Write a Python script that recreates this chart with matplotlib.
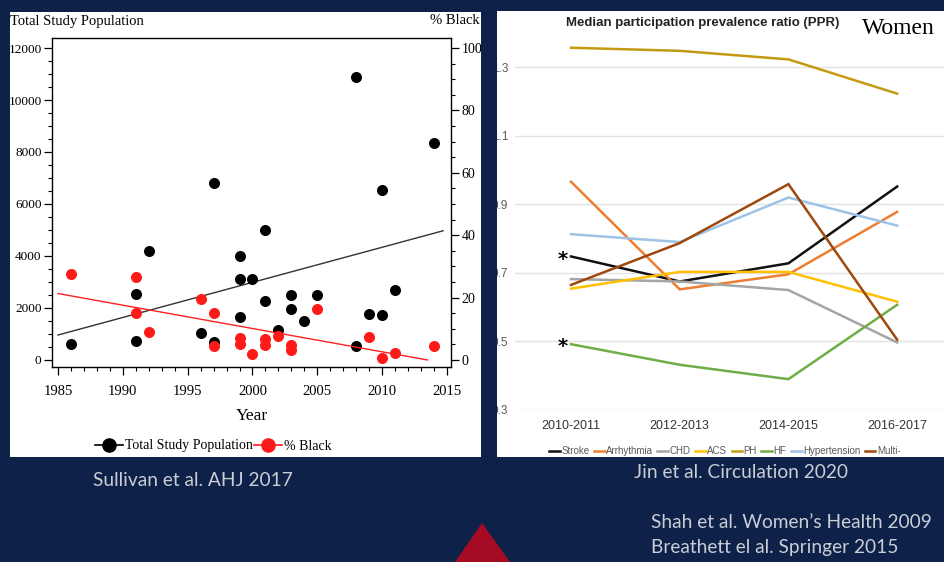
import matplotlib
matplotlib.use("Agg")
from matplotlib import pyplot as plt
from matplotlib.lines import Line2D
from matplotlib.patches import Rectangle, Polygon
from matplotlib.ticker import MultipleLocator

W, H = 945, 562
NAVY = '#0e2149'

# left chart: study population / % black by year
pop_years = [1986, 1991, 1991, 1992, 1996, 1997, 1997, 1999, 1999, 1999, 2000, 2001, 2001,
             2002, 2003, 2003, 2004, 2005, 2008, 2008, 2009, 2010, 2010, 2011, 2014]
pop_values = [600, 2550, 730, 4200, 1050, 6800, 700, 4000, 3100, 1640, 3100, 5000, 2250,
              1150, 2500, 1970, 1500, 2500, 10900, 540, 1780, 6550, 1740, 2680, 8350]
black_years = [1986, 1991, 1991, 1992, 1996, 1997, 1997, 1999, 1999, 2000, 2001, 2001,
               2002, 2003, 2003, 2005, 2009, 2010, 2011, 2014]
black_pct = [27.7, 26.5, 14.9, 8.9, 19.6, 15.2, 4.5, 7.1, 5.0, 1.8, 6.8, 4.7,
             7.8, 4.7, 3.1, 16.4, 7.4, 0.5, 2.2, 4.5]
pop_trend_years = [1985, 2014.7]
pop_trend = [960, 4970]
pct_trend_years = [1985, 2013.5]
pct_trend = [21.3, 0.0]

# right chart: median PPR (women)
periods = ['2010-2011', '2012-2013', '2014-2015', '2016-2017']
stroke = [0.748, 0.675, 0.728, 0.952]
arrhythmia = [0.966, 0.652, 0.696, 0.878]
chd = [0.682, 0.675, 0.650, 0.497]
acs = [0.654, 0.703, 0.703, 0.616]
ph = [1.357, 1.348, 1.323, 1.223]
hf = [0.492, 0.432, 0.390, 0.607]
hypertension = [0.813, 0.790, 0.920, 0.838]
multi = [0.665, 0.787, 0.959, 0.505]

series = [('Stroke', stroke, '#111111'), ('Arrhythmia', arrhythmia, '#ed7d31'),
          ('CHD', chd, '#a5a5a5'), ('ACS', acs, '#ffc000'), ('PH', ph, '#c39a12'),
          ('HF', hf, '#70ad47'), ('Hypertension', hypertension, '#9dc3e6'),
          ('Multi-', multi, '#9e480e')]


def px(x0, y0, x1, y1):
    return [x0 / W, 1 - y1 / H, (x1 - x0) / W, (y1 - y0) / H]


fig = plt.figure(figsize=(W / 100, H / 100), dpi=100, facecolor=NAVY)

# white panels
fig.patches.append(Rectangle((10 / W, 1 - 457 / H), 471 / W, 445 / H, transform=fig.transFigure,
                             facecolor='white', edgecolor='none', zorder=-5))
fig.patches.append(Rectangle((497 / W, 1 - 457 / H), 448 / W, 446 / H, transform=fig.transFigure,
                             facecolor='white', edgecolor='none', zorder=-5))

serif = 'Liberation Serif'
narrow = ['Liberation Sans', 'DejaVu Sans']

# ---- left chart
ax1 = fig.add_axes(px(52, 38, 451, 367))
ax1.set_facecolor('none')
ax1.plot(pop_trend_years, pop_trend, color='#333333', lw=1.0, zorder=2)
ax1.scatter(pop_years, pop_values, s=48, color='black', zorder=3)
ax1.set_xlim(1984.54, 2015.31)
ax1.set_ylim(-270, 12385)
ax1.xaxis.set_major_locator(MultipleLocator(5))
ax1.xaxis.set_minor_locator(MultipleLocator(1))
ax1.yaxis.set_major_locator(MultipleLocator(2000))
ax1.yaxis.set_minor_locator(MultipleLocator(500))
ax1.tick_params(which='major', length=6, width=0.9, labelsize=9.5, pad=1.5)
ax1.tick_params(axis='x', which='major', labelsize=10.5, pad=7)
ax1.tick_params(which='minor', length=3, width=0.8)
for lab in ax1.get_xticklabels() + ax1.get_yticklabels():
    lab.set_fontfamily(serif)
ax1.set_xlabel('Year', fontfamily=serif, fontsize=12.5, labelpad=7)
for s in ax1.spines.values():
    s.set_color('#444444')
    s.set_linewidth(1.0)

ax1r = ax1.twinx()
ax1r.plot(pct_trend_years, pct_trend, color='#ff2020', lw=1.0, zorder=2)
ax1r.scatter(black_years, black_pct, s=48, color='#ff1a1a', zorder=3)
ax1r.set_ylim(-270 / 120, 12385 / 120)
ax1r.yaxis.set_major_locator(MultipleLocator(20))
ax1r.yaxis.set_minor_locator(MultipleLocator(5))
ax1r.tick_params(which='major', length=6, width=0.9, labelsize=10, pad=1.5)
ax1r.tick_params(which='minor', length=3, width=0.8)
for lab in ax1r.get_yticklabels():
    lab.set_fontfamily(serif)

fig.text(10 / W, 1 - 21 / H, 'Total Study Population', fontfamily=serif, fontsize=10.5, va='center')
fig.text(480 / W, 1 - 21 / H, '% Black', fontfamily=serif, fontsize=10.5, va='center', ha='right')

handles = [Line2D([], [], color='black', marker='o', markersize=9.5, lw=1.2),
           Line2D([], [], color='#ff1a1a', marker='o', markersize=9.5, lw=1.2)]
fig.legend(handles, ['Total Study Population', '% Black'], loc='center left',
           bbox_to_anchor=(88 / W, 1 - 446 / H), ncol=2, frameon=False,
           prop={'family': serif, 'size': 10}, handlelength=2.0, handletextpad=0.15,
           columnspacing=0.1, borderpad=0)

# ---- right chart
ax2 = fig.add_axes(px(515, 33, 945, 410))
ax2.set_facecolor('none')
x = list(range(len(periods)))
for name, vals, col in series:
    ax2.plot(x, vals, color=col, lw=1.8, label=name, solid_joinstyle='miter')
ax2.set_xlim(-0.515, 3.44)
ax2.set_ylim(0.3, 1.4)
ax2.set_yticks([0.3, 0.5, 0.7, 0.9, 1.1, 1.3])
ax2.set_yticklabels(['0.3', '0.5', '0.7', '0.9', '1.1', '1.3'])
ax2.set_xticks(x)
ax2.set_xticklabels(periods)
ax2.grid(axis='y', color='#e3e3e3', lw=1)
ax2.set_axisbelow(True)
for s in ax2.spines.values():
    s.set_visible(False)
ax2.tick_params(length=0, pad=7, colors='#595959', labelsize=8.5)
ax2.tick_params(axis='y', pad=5)
for lab in ax2.get_xticklabels():
    lab.set_fontfamily(narrow)
    lab.set_color('#333333')
    lab.set_fontsize(9)
for lab in ax2.get_yticklabels():
    lab.set_fontfamily(narrow)

ax2.text(-0.03, stroke[0] - 0.008, '*', ha='right', va='center', fontsize=14, fontweight='bold')
ax2.text(-0.03, hf[0] - 0.008, '*', ha='right', va='center', fontsize=14, fontweight='bold')

ax2.legend(loc='center', bbox_to_anchor=(0.488, (410 - 451) / 377), ncol=8, frameon=False,
           handlelength=1.1, handletextpad=0.15, columnspacing=0.45, borderpad=0,
           prop={'family': narrow, 'size': 7}, labelcolor='#595959')

fig.text(703 / W, 1 - 23 / H, 'Median participation prevalence ratio (PPR)', ha='center',
         va='center', fontfamily=narrow, fontsize=9.5, fontweight='bold', color='#222222')
fig.text(862 / W, 1 - 29 / H, 'Women', fontfamily=serif, fontsize=17, va='center', color='black')

# navy gap between the panels (clips the cut-off tick labels)
fig.patches.append(Rectangle((481 / W, 0), 16 / W, 1, transform=fig.transFigure,
                             facecolor=NAVY, edgecolor='none', zorder=10))

# footer
txt = '#c9cdd6'
sans = ['Lato', 'DejaVu Sans']
fig.text(93 / W, 1 - 480 / H, 'Sullivan et al. AHJ 2017', color=txt, fontfamily=sans, fontsize=13.8, va='center')
fig.text(634 / W, 1 - 472 / H, 'Jin et al. Circulation 2020', color=txt, fontfamily=sans, fontsize=13.8, va='center')
fig.text(651 / W, 1 - 522 / H, 'Shah et al. Women\u2019s Health 2009', color=txt, fontfamily=sans, fontsize=13.8, va='center')
fig.text(651 / W, 1 - 547 / H, 'Breathett el al. Springer 2015', color=txt, fontfamily=sans, fontsize=13.8, va='center')
fig.patches.append(Polygon([(455 / W, 0), (482 / W, 1 - 523 / H), (510 / W, 0)], closed=True,
                           transform=fig.transFigure, facecolor='#a50b22', edgecolor='none', zorder=11))

fig.savefig('out.png', dpi=100, facecolor=NAVY)
